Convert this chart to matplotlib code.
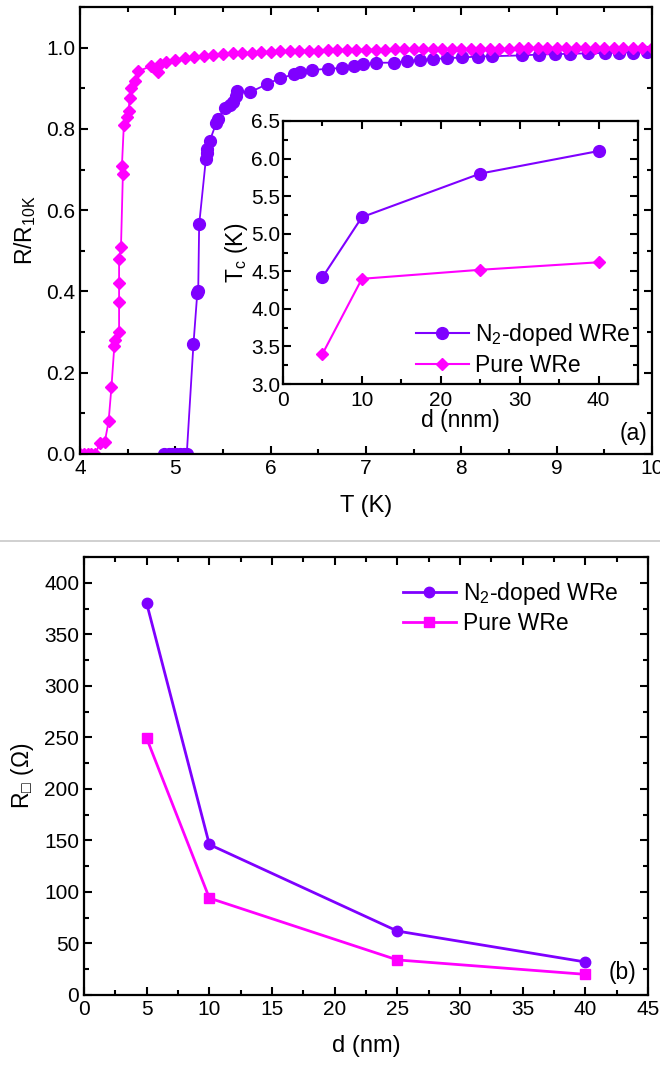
import matplotlib
matplotlib.use('Agg')
import matplotlib.pyplot as plt
from matplotlib.lines import Line2D
from matplotlib.ticker import MultipleLocator

plt.rcParams['font.family'] = ['Liberation Sans', 'DejaVu Sans']
plt.rcParams['mathtext.fontset'] = 'custom'
plt.rcParams['mathtext.rm'] = 'Liberation Sans'
plt.rcParams['mathtext.it'] = 'Liberation Sans'
plt.rcParams['mathtext.fallback'] = 'stixsans'

purple = '#7F00FF'
magenta = '#FF00FF'

# ---- (a) R/R10K vs T ----
T_n2 = [4.88, 4.93, 4.97, 5.01, 5.05, 5.09, 5.12, 5.19, 5.23, 5.24, 5.25, 5.32, 5.33, 5.33,
        5.36, 5.43, 5.45, 5.52, 5.57, 5.60, 5.64, 5.65, 5.78, 5.96, 6.10, 6.24, 6.31, 6.43,
        6.60, 6.75, 6.87, 6.97, 7.11, 7.29, 7.43, 7.57, 7.70, 7.85, 8.01, 8.17, 8.32, 8.64,
        8.81, 8.98, 9.14, 9.33, 9.51, 9.65, 9.80, 9.95]
R_n2 = [0.0, 0.0, 0.0, 0.0, 0.0, 0.0, 0.0, 0.27, 0.395, 0.40, 0.565, 0.725, 0.74, 0.75,
        0.77, 0.815, 0.825, 0.852, 0.86, 0.866, 0.88, 0.893, 0.89, 0.91, 0.925, 0.934, 0.939, 0.945,
        0.948, 0.95, 0.955, 0.959, 0.963, 0.963, 0.967, 0.970, 0.972, 0.974, 0.976, 0.978, 0.979, 0.981,
        0.983, 0.984, 0.985, 0.986, 0.987, 0.988, 0.988, 0.989]

T_pure = [4.00, 4.04, 4.08, 4.12, 4.16, 4.21, 4.26, 4.30, 4.33, 4.36, 4.37, 4.41, 4.41, 4.41,
          4.41, 4.43, 4.45, 4.44, 4.46, 4.49, 4.51, 4.52, 4.54, 4.58, 4.61, 4.75, 4.82, 4.84,
          4.90, 5.00, 5.10, 5.20, 5.30, 5.40, 5.50, 5.60, 5.70, 5.80, 5.90, 6.00, 6.10, 6.20,
          6.30, 6.40, 6.50, 6.60, 6.70, 6.80, 6.90, 7.00, 7.10, 7.20, 7.30, 7.40, 7.50, 7.60,
          7.70, 7.80, 7.90, 8.00, 8.10, 8.20, 8.30, 8.40, 8.50, 8.60, 8.70, 8.80, 8.90, 9.00,
          9.10, 9.20, 9.30, 9.40, 9.50, 9.60, 9.70, 9.80, 9.90, 10.00]
R_pure = [0.0, 0.0, 0.0, 0.0, 0.0, 0.027, 0.03, 0.08, 0.165, 0.265, 0.28, 0.30, 0.375, 0.42,
          0.48, 0.51, 0.69, 0.71, 0.81, 0.83, 0.845, 0.875, 0.90, 0.918, 0.942, 0.955, 0.94, 0.96,
          0.965, 0.970, 0.974, 0.977, 0.980, 0.982, 0.984, 0.986, 0.987, 0.988, 0.989, 0.990, 0.991, 0.991,
          0.992, 0.993, 0.993, 0.994, 0.994, 0.994, 0.995, 0.995, 0.995, 0.995, 0.996, 0.996, 0.996, 0.996,
          0.996, 0.996, 0.997, 0.997, 0.997, 0.997, 0.997, 0.997, 0.997, 0.998, 0.998, 0.998, 0.998, 0.998,
          0.998, 0.998, 0.998, 0.999, 0.999, 0.999, 0.999, 0.999, 0.999, 0.999]

# ---- inset: Tc vs d ----
d_tc = [5, 10, 25, 40]
tc_n2 = [4.42, 5.22, 5.80, 6.10]
tc_pure = [3.40, 4.40, 4.52, 4.62]

# ---- (b) sheet resistance vs d ----
d_rs = [5, 10, 25, 40]
rs_n2 = [380, 146, 62, 32]
rs_pure = [249, 94, 34, 20]

lab_n2 = r'N$_2$-doped WRe'
lab_pure = 'Pure WRe'


def style(ax, xmaj, xmin, ymaj, ymin):
    ax.xaxis.set_major_locator(MultipleLocator(xmaj))
    ax.xaxis.set_minor_locator(MultipleLocator(xmin))
    ax.yaxis.set_major_locator(MultipleLocator(ymaj))
    ax.yaxis.set_minor_locator(MultipleLocator(ymin))
    ax.tick_params(which='both', direction='in', top=True, right=True, width=1.5, labelsize=15)
    ax.tick_params(which='major', length=6)
    ax.tick_params(which='minor', length=3.5)
    for s in ax.spines.values():
        s.set_linewidth(1.6)


fig = plt.figure(figsize=(6.6, 10.83), dpi=100)

ax1 = fig.add_axes([0.1212, 0.5808, 0.8667, 0.4127])
ax1.plot(T_n2, R_n2, '-o', color=purple, lw=1.3, ms=8.5)
ax1.plot(T_pure, R_pure, '-D', color=magenta, lw=1.3, ms=6.5)
ax1.set_xlim(4, 10)
ax1.set_ylim(0, 1.1)
style(ax1, 1, 0.5, 0.2, 0.1)
ax1.yaxis.set_major_formatter(matplotlib.ticker.FormatStrFormatter('%.1f'))
ax1.set_xlabel('T (K)', fontsize=17, labelpad=12)
ax1.set_ylabel(r'R/R$_{\mathrm{10K}}$', fontsize=16.5, labelpad=6)
ax1.text(0.992, 0.045, '(a)', transform=ax1.transAxes, ha='right', va='center', fontsize=16.5)

ins = fig.add_axes([0.4288, 0.6454, 0.5379, 0.2429])
ins.plot(d_tc, tc_n2, '-o', color=purple, lw=1.5, ms=8.5, label=lab_n2)
ins.plot(d_tc, tc_pure, '-D', color=magenta, lw=1.5, ms=6.5, label=lab_pure)
ins.set_xlim(0, 45)
ins.set_ylim(3.0, 6.5)
style(ins, 10, 5, 0.5, 0.25)
ins.yaxis.set_major_formatter(matplotlib.ticker.FormatStrFormatter('%.1f'))
ins.tick_params(axis='y', pad=2)
ins.tick_params(axis='x', pad=5)
ins.set_xlabel('d (nnm)', fontsize=16.5, labelpad=-1)
ins.set_ylabel(r'T$_\mathrm{c}$ (K)', fontsize=16.5, labelpad=1)
ins.legend(loc='lower right', frameon=False, fontsize=16.5, handlelength=2.3,
           handletextpad=0.3, labelspacing=0.25, borderaxespad=0.1, borderpad=0.2)

fig.add_artist(Line2D([0, 1], [0.5005, 0.5005], color='#c8c8c8', lw=1.2))

ax2 = fig.add_axes([0.1273, 0.0813, 0.8545, 0.4044])
ax2.plot(d_rs, rs_n2, '-o', color=purple, lw=2, ms=7.5, label=lab_n2)
ax2.plot(d_rs, rs_pure, '-s', color=magenta, lw=2, ms=6.5, label=lab_pure)
ax2.set_xlim(0, 45)
ax2.set_ylim(0, 425)
style(ax2, 5, 2.5, 50, 25)
ax2.set_xlabel('d (nm)', fontsize=17, labelpad=12)
ax2.set_ylabel('R$_{\u25a1}$ ($\\Omega$)', fontsize=16.5, labelpad=6)
ax2.text(0.98, 0.052, '(b)', transform=ax2.transAxes, ha='right', va='center', fontsize=16.5)
ax2.legend(loc='upper right', frameon=False, fontsize=16.5, handlelength=2.3,
           handletextpad=0.3, labelspacing=0.25, borderaxespad=0.4, bbox_to_anchor=(0.98, 0.99))

fig.savefig('out.png', dpi=100)
